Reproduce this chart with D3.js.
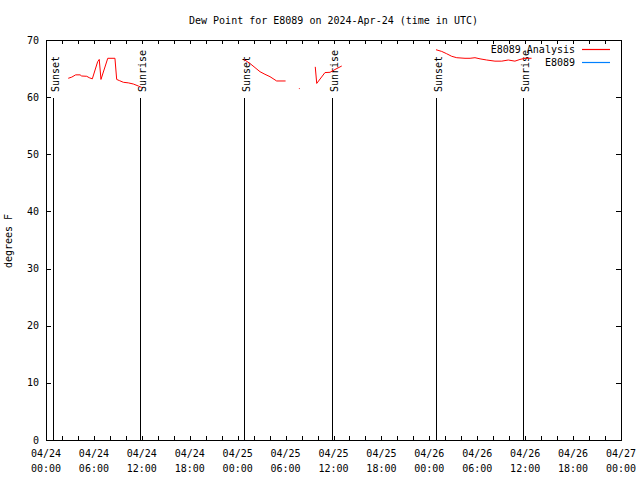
<!DOCTYPE html>
<html>
<head>
<meta charset="utf-8">
<script src="https://cdn.jsdelivr.net/npm/d3@7"></script>
<style>
  html, body { margin: 0; padding: 0; background: #fff; }
  text { font-family: "DejaVu Sans Mono", monospace; font-size: 10px; fill: #000; }
</style>
</head>
<body>
<svg id="chart" width="640" height="480"></svg>
<script>
// ---- data ----
const titleText = "Dew Point for E8089 on 2024-Apr-24 (time in UTC)";
const yLabelText = "degrees F";
const seriesNames = ["E8089 Analysis", "E8089"];
const seriesColors = ["#ff0000", "#0080ff"];

// E8089 Analysis (null breaks the line)
const analysisTimes = [
  "2024-04-24T02:47", "2024-04-24T03:13", "2024-04-24T03:43", "2024-04-24T04:16", "2024-04-24T04:28",
  "2024-04-24T05:06", "2024-04-24T05:25", "2024-04-24T05:48", "2024-04-24T06:28", "2024-04-24T06:40",
  "2024-04-24T06:53", "2024-04-24T07:44", "2024-04-24T08:38", "2024-04-24T08:51", "2024-04-24T09:11",
  "2024-04-24T09:41", "2024-04-24T10:18", "2024-04-24T10:56", "2024-04-24T11:34", "2024-04-24T11:59",
  "2024-04-24T18:00",
  "2024-04-25T00:47", "2024-04-25T01:32", "2024-04-25T02:48", "2024-04-25T03:25", "2024-04-25T04:03",
  "2024-04-25T04:53", "2024-04-25T06:00",
  "2024-04-25T07:00",
  "2024-04-25T07:40", "2024-04-25T07:46",
  "2024-04-25T08:30",
  "2024-04-25T09:43", "2024-04-25T09:54", "2024-04-25T10:56", "2024-04-25T11:34", "2024-04-25T12:11",
  "2024-04-25T13:02",
  "2024-04-25T18:00",
  "2024-04-26T00:50", "2024-04-26T01:33", "2024-04-26T02:10", "2024-04-26T02:48", "2024-04-26T03:26",
  "2024-04-26T04:28", "2024-04-26T05:06", "2024-04-26T05:43", "2024-04-26T06:21", "2024-04-26T07:11",
  "2024-04-26T08:13", "2024-04-26T09:04", "2024-04-26T09:53", "2024-04-26T10:43", "2024-04-26T11:21",
  "2024-04-26T11:59", "2024-04-26T12:48"
];
const analysisValues = [
  63.3, 63.5, 63.9, 63.9, 63.7,
  63.65, 63.4, 63.2, 66.2, 66.6,
  63.1, 66.8, 66.8, 63.1, 62.9,
  62.6, 62.5, 62.3, 61.95, 61.7,
  null,
  66.6, 65.9, 64.45, 64.0, 63.58,
  62.83, 62.83,
  null,
  61.5, 61.5,
  null,
  65.3, 62.4, 64.3, 64.35, 64.84,
  65.45,
  null,
  68.3, 68.0, 67.6, 67.15, 66.9,
  66.8, 66.8, 66.9, 66.7, 66.5,
  66.3, 66.3, 66.5, 66.3, 66.6,
  66.8, 66.8
];
// E8089 observations (none in this window)
const obsTimes = [];
const obsValues = [];

const sunEvents = ["Sunset", "Sunrise", "Sunset", "Sunrise", "Sunset", "Sunrise"];
const sunTimes = [
  "2024-04-24T00:53", "2024-04-24T11:46", "2024-04-25T00:47",
  "2024-04-25T11:49", "2024-04-26T00:50", "2024-04-26T11:44"
];

const yTicks = [0, 10, 20, 30, 40, 50, 60, 70];
const xStart = "2024-04-24T00:00";
const xEnd = "2024-04-27T00:00";

// ---- layout ----
const L = 46, R = 621, T = 40, B = 440;
const svg = d3.select("#chart");
svg.append("rect").attr("width", 640).attr("height", 480).attr("fill", "#fff");

const parse = s => new Date(s + ":00Z");
const x = d3.scaleUtc().domain([parse(xStart), parse(xEnd)]).range([L, R]);
const y = d3.scaleLinear().domain([0, 70]).range([B, T]);

const fmtDate = d3.utcFormat("%m/%d");
const fmtTime = d3.utcFormat("%H:%M");
const xMinor = d3.utcHour.every(2).range(parse(xStart), new Date(parse(xEnd).getTime() + 1));
const xMajor = d3.utcHour.every(6).range(parse(xStart), new Date(parse(xEnd).getTime() + 1));

const g = svg.append("g");

// ticks (inward, all four sides)
const tickG = g.append("g").attr("stroke", "#000").attr("stroke-width", 1).attr("shape-rendering", "crispEdges");
xMinor.forEach(d => {
  const px = Math.round(x(d)) + 0.5;
  tickG.append("line").attr("x1", px).attr("x2", px).attr("y1", B).attr("y2", B - 4);
  tickG.append("line").attr("x1", px).attr("x2", px).attr("y1", T).attr("y2", T + 4);
});
yTicks.forEach(v => {
  const py = Math.round(y(v)) + 0.5;
  tickG.append("line").attr("x1", L).attr("x2", L + 5).attr("y1", py).attr("y2", py);
  tickG.append("line").attr("x1", R).attr("x2", R - 5).attr("y1", py).attr("y2", py);
});

// tick labels
yTicks.forEach(v => {
  g.append("text").attr("x", 39).attr("y", y(v) + 3.5).attr("text-anchor", "end").text(v);
});
xMajor.forEach(d => {
  g.append("text").attr("x", x(d)).attr("y", 457).attr("text-anchor", "middle").text(fmtDate(d));
  g.append("text").attr("x", x(d)).attr("y", 472).attr("text-anchor", "middle").text(fmtTime(d));
});

// sunrise / sunset lines
sunTimes.forEach((t, i) => {
  const px = Math.round(x(parse(t))) + 0.5;
  g.append("line").attr("x1", px).attr("x2", px).attr("y1", 98).attr("y2", B)
    .attr("stroke", "#000").attr("stroke-width", 1).attr("shape-rendering", "crispEdges");
  g.append("text").attr("transform", `translate(${px + 5},92) rotate(-90)`).text(sunEvents[i]);
});

// data lines
const line = d3.line()
  .defined(d => d[1] !== null)
  .x(d => x(parse(d[0])))
  .y(d => y(d[1]));
const analysisData = analysisTimes.map((t, i) => [t, analysisValues[i]]);
const obsData = obsTimes.map((t, i) => [t, obsValues[i]]);
g.append("path").attr("d", line(analysisData)).attr("fill", "none")
  .attr("stroke", seriesColors[0]).attr("stroke-width", 1);
if (obsData.length) {
  g.append("path").attr("d", line(obsData)).attr("fill", "none")
    .attr("stroke", seriesColors[1]).attr("stroke-width", 1);
}

// border
g.append("rect").attr("x", L + 0.5).attr("y", T + 0.5).attr("width", R - L).attr("height", B - T)
  .attr("fill", "none").attr("stroke", "#000").attr("stroke-width", 1).attr("shape-rendering", "crispEdges");

// legend
seriesNames.forEach((n, i) => {
  const ly = 49.5 + i * 13;
  g.append("text").attr("x", 575).attr("y", ly + 3.5).attr("text-anchor", "end").text(n);
  g.append("line").attr("x1", 582).attr("x2", 610).attr("y1", ly).attr("y2", ly)
    .attr("stroke", seriesColors[i]).attr("stroke-width", 1.2);
});

// title and y label
svg.append("text").attr("x", 333.5).attr("y", 23.5).attr("text-anchor", "middle").text(titleText);
svg.append("text").attr("transform", "translate(12,241) rotate(-90)").attr("text-anchor", "middle").text(yLabelText);
</script>
</body>
</html>
